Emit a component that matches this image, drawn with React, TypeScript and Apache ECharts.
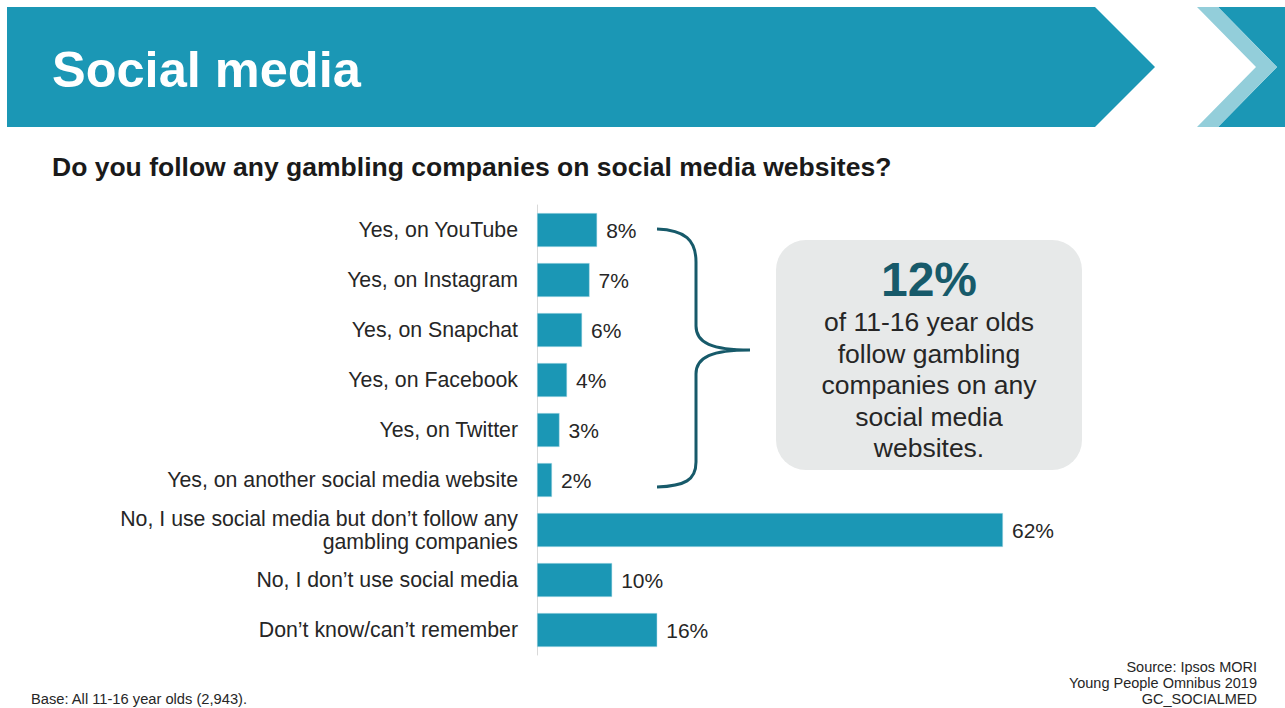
import React, { useEffect, useRef } from "react";
import * as echarts from "echarts";

const categories = [
  "Yes, on YouTube",
  "Yes, on Instagram",
  "Yes, on Snapchat",
  "Yes, on Facebook",
  "Yes, on Twitter",
  "Yes, on another social media website",
  "No, I use social media but don\u2019t follow any\ngambling companies",
  "No, I don\u2019t use social media",
  "Don\u2019t know/can\u2019t remember",
];
const values = [8, 7, 6, 4, 3, 2, 62, 10, 16];

const title = "Social media";
const question = "Do you follow any gambling companies on social media websites?";
const calloutValue = "12%";
const calloutLines = ["of 11-16 year olds", "follow gambling", "companies on any", "social media", "websites."];
const baseNote = "Base: All 11-16 year olds (2,943).";
const sourceLines = ["Source: Ipsos MORI", "Young People Omnibus 2019", "GC_SOCIALMED"];

const TEAL = "#1B97B5";
const LIGHT = "#93CEDA";
const DARK = "#175A6A";
const FONT = "'Liberation Sans', Arial, sans-serif";

const bracePath =
  "M657,229 C685,230 696,240 696,262 L696,326 C696,343 712,350 750,350 C712,350 696,357 696,374 L696,462 C696,480 685,486 657,487";
echarts.graphic.registerShape("brace", echarts.graphic.extendPath(bracePath, {}) as any);

export default function App() {
  const ref = useRef<HTMLDivElement>(null);
  useEffect(() => {
    document.body.style.margin = "0";
    const chart = echarts.init(ref.current!, null, { renderer: "svg" });
    const max = 70;
    chart.setOption({
      animation: false,
      grid: { left: 537, top: 205, bottom: 53, width: (466 / 62) * max, containLabel: false },
      xAxis: { type: "value", min: 0, max, show: false },
      yAxis: {
        type: "category",
        data: categories,
        inverse: true,
        axisLine: { show: true, lineStyle: { color: "#D9D9D9", width: 1 } },
        axisTick: { show: false },
        axisLabel: {
          margin: 19,
          fontSize: 21.3,
          fontFamily: FONT,
          color: "#262626",
          align: "right",
          lineHeight: 23,
        },
      },
      series: [
        {
          type: "bar",
          data: values,
          barWidth: 34,
          itemStyle: { color: TEAL, borderColor: "#BFE3EC", borderWidth: 0.5 },
          label: {
            show: true,
            position: "right",
            distance: 9,
            formatter: "{c}%",
            fontSize: 21,
            fontFamily: FONT,
            color: "#262626",
          },
        },
      ],
      graphic: [
        {
          type: "polygon",
          shape: { points: [[7, 7], [1095, 7], [1155, 67], [1095, 127], [7, 127]] },
          style: { fill: TEAL },
        },
        {
          type: "polygon",
          shape: { points: [[1218, 7], [1285, 7], [1285, 127], [1218, 127], [1277, 67]] },
          style: { fill: TEAL },
        },
        {
          type: "polygon",
          shape: { points: [[1197, 7], [1218, 7], [1277, 67], [1218, 127], [1197, 127], [1256, 67]] },
          style: { fill: LIGHT },
        },
        {
          type: "text",
          x: 52,
          y: 69,
          style: { text: title, fill: "#fff", font: `bold 50.5px ${FONT}`, textVerticalAlign: "middle" },
        },
        {
          type: "text",
          x: 52,
          y: 167,
          style: { text: question, fill: "#1a1a1a", font: `bold 26.5px ${FONT}`, textVerticalAlign: "middle" },
        },
        {
          type: "brace",
          x: 0,
          y: 0,
          style: { fill: "none", stroke: DARK, lineWidth: 3 },
        } as any,
        {
          type: "rect",
          shape: { x: 776, y: 240, width: 306, height: 230, r: 30 },
          style: { fill: "#E7E9E9" },
        },
        {
          type: "text",
          x: 929,
          y: 279,
          style: {
            text: calloutValue,
            fill: DARK,
            font: `bold 48px ${FONT}`,
            textAlign: "center",
            textVerticalAlign: "middle",
          },
        },
        ...calloutLines.map((t, i) => ({
          type: "text",
          x: 929,
          y: 322 + i * 31.5,
          style: {
            text: t,
            fill: "#262626",
            font: `26.5px ${FONT}`,
            textAlign: "center",
            textVerticalAlign: "middle",
          },
        })),
        {
          type: "text",
          x: 31,
          y: 699,
          style: { text: baseNote, fill: "#262626", font: `14.7px ${FONT}`, textVerticalAlign: "middle" },
        },
        ...sourceLines.map((t, i) => ({
          type: "text",
          x: 1257,
          y: 667 + i * 16,
          style: {
            text: t,
            fill: "#262626",
            font: `14.5px ${FONT}`,
            textAlign: "right",
            textVerticalAlign: "middle",
          },
        })),
      ],
    });
    return () => chart.dispose();
  }, []);
  return <div ref={ref} style={{ width: 1285, height: 708, position: "absolute", left: 0, top: 0 }} />;
}
